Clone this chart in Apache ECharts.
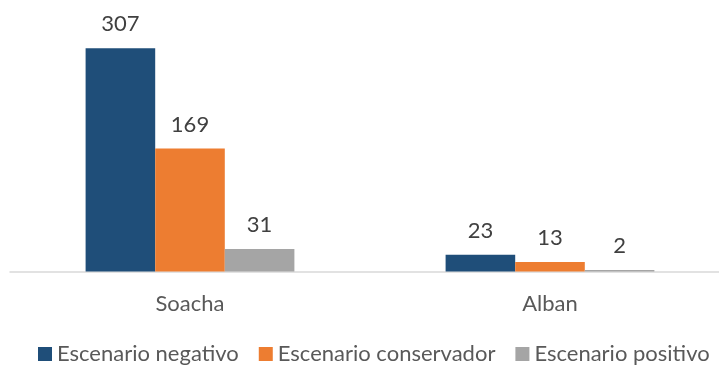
<!DOCTYPE html>
<html>
<head>
<meta charset="utf-8">
<script src="https://cdn.jsdelivr.net/npm/echarts@6/dist/echarts.min.js"></script>
<style>
  html, body { margin: 0; padding: 0; background: #ffffff; }
  #chart { width: 719px; height: 366px; }
</style>
</head>
<body>
<div id="chart"></div>
<script>
// Municipios y escenarios
const categories = ['Soacha', 'Alban'];
const seriesNames = ['Escenario negativo', 'Escenario conservador', 'Escenario positivo'];
const negativo = [307, 23];
const conservador = [169, 13];
const positivo = [31, 2];
const colors = ['#1F4E79', '#ED7D31', '#A5A5A5'];

const fontFamily = 'Lato, "Open Sans", sans-serif';
const valuesBySeries = [negativo, conservador, positivo];

const chart = echarts.init(document.getElementById('chart'));
chart.setOption({
  animation: false,
  color: colors,
  grid: { left: 10, top: 17, width: 720, height: 254.5, containLabel: false, outerBoundsMode: 'none' },
  legend: {
    top: 343,
    left: 38,
    padding: 0,
    itemWidth: 14,
    itemHeight: 14,
    itemGap: 20,
    icon: 'rect',
    textStyle: { fontFamily, fontSize: 22, color: '#595959' },
    data: seriesNames
  },
  xAxis: {
    type: 'category',
    data: categories,
    axisLine: { lineStyle: { color: '#D9D9D9', width: 1.5 } },
    axisTick: { show: false },
    axisLabel: { fontFamily, fontSize: 22, color: '#595959', margin: 21 }
  },
  yAxis: {
    type: 'value',
    min: 0,
    max: 350,
    show: false,
    splitLine: { show: false }
  },
  series: seriesNames.map((name, i) => ({
    name,
    type: 'bar',
    data: valuesBySeries[i],
    barGap: '0%',
    barCategoryGap: '42%',
    label: {
      show: true,
      position: 'top',
      distance: 13,
      fontFamily,
      fontSize: 22,
      color: '#404040'
    }
  }))
});
</script>
</body>
</html>
